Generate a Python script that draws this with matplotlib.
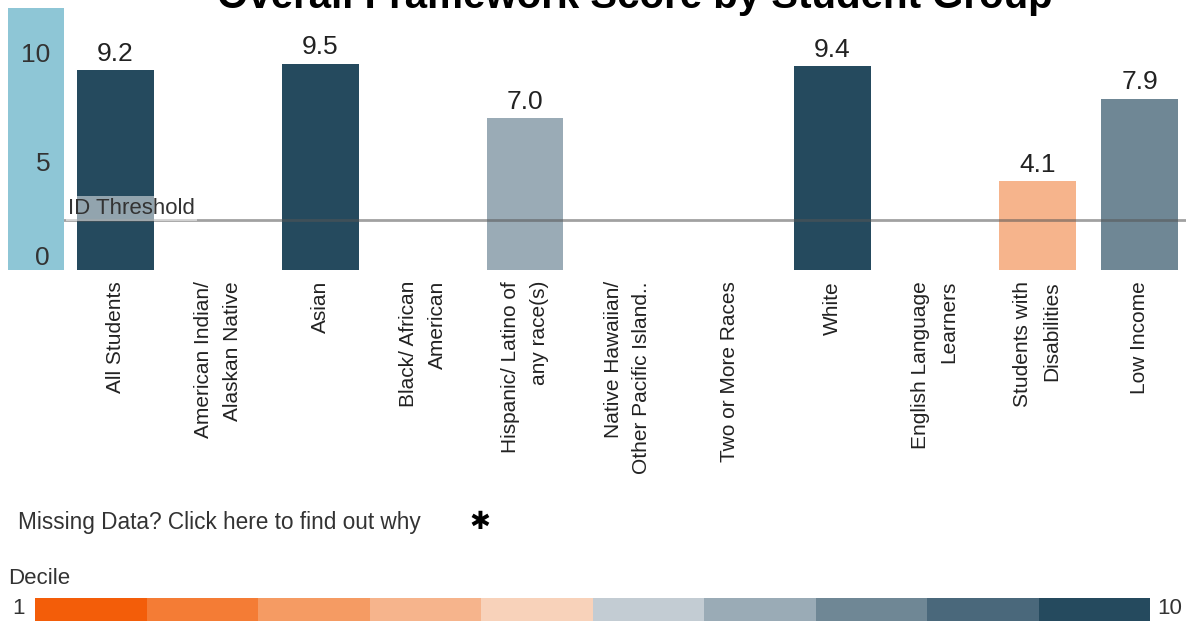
import numpy as np
import matplotlib
matplotlib.use("Agg")
import matplotlib.pyplot as plt

plt.rcParams['font.family'] = ['Liberation Sans', 'DejaVu Sans']

categories = ["All Students", "American Indian/\nAlaskan Native", "Asian",
              "Black/ African\nAmerican", "Hispanic/ Latino of\nany race(s)",
              "Native Hawaiian/\nOther Pacific Island..", "Two or More Races",
              "White", "English Language\nLearners", "Students with\nDisabilities",
              "Low Income"]
scores = [9.2, np.nan, 9.5, np.nan, 7.0, np.nan, np.nan, 9.4, np.nan, 4.1, 7.9]
deciles = [10, 0, 10, 0, 7, 0, 0, 10, 0, 4, 8]
threshold = 2.3
decile_colors = ["#f35d09", "#f47c35", "#f59b63", "#f6b48c", "#f8d2ba",
                 "#c3ccd3", "#9aabb6", "#6f8795", "#4a687b", "#254a5e"]

W, H = 1186, 621
fig = plt.figure(figsize=(W / 100, H / 100), dpi=100)

def fx(px):
    return px / W

def fy(py):
    return 1 - py / H

# light blue y axis band (separate axes underneath the chart)
band = fig.add_axes([fx(8), fy(270), fx(56), 262 / H], zorder=0)
band.set_facecolor("#8ec6d6")
band.set_xticks([])
band.set_yticks([])
for sp in band.spines.values():
    sp.set_visible(False)

ax = fig.add_axes([fx(64), fy(270), fx(1191 - 64), 262 / H], zorder=1)
x = np.arange(len(categories))
colors = [decile_colors[d - 1] if d > 0 else "white" for d in deciles]
ax.bar(x, scores, width=0.75, color=colors, zorder=2)
for xi, s in zip(x, scores):
    if not np.isnan(s):
        ax.text(xi, s + 0.2, f"{s:.1f}", ha="center", va="bottom",
                fontsize=19, color="#222222")

ax.axhline(threshold, color="#555555", alpha=0.55, lw=2, zorder=3)
ax.text(-0.46, threshold + 0.04, "ID Threshold", fontsize=16, color="#333333",
        va="bottom", ha="left", zorder=4,
        bbox=dict(boxstyle="square,pad=0.1", fc="white", ec="none", alpha=0.5))

ax.set_xlim(-0.5, len(categories) - 0.5)
ax.set_ylim(0, 12.07)
ax.set_xticks(x)
ax.set_xticklabels(categories, rotation=90, fontsize=15, color="#222222",
                   multialignment="right", linespacing=1.65)
ax.tick_params(axis="x", length=0, pad=8)
ax.set_yticks([0, 5, 10])
ax.set_yticklabels(["0", "5", "10"], fontsize=19, color="#333333")
ax.tick_params(axis="y", length=0, pad=10)
ax.get_yticklabels()[0].set_va("bottom")
for sp in ax.spines.values():
    sp.set_visible(False)
ax.patch.set_alpha(0)

fig.text(0.535, fy(8), "Overall Framework Score by Student Group", ha="center",
         va="baseline", fontsize=29, fontweight="bold", color="black")

fig.text(fx(18), fy(522), "Missing Data? Click here to find out why", fontsize=16.3,
         color="#333333", va="center", ha="left")
fig.text(fx(480), fy(522), "\u2731", fontsize=18, color="black", va="center",
         ha="center", family=["DejaVu Sans"])
fig.text(fx(8), fy(579), "Decile", fontsize=16, color="#333333", va="center", ha="left")
fig.text(fx(19), fy(609), "1", fontsize=16, color="#333333", va="center", ha="center")
fig.text(fx(1157), fy(609), "10", fontsize=16, color="#333333", va="center", ha="left")

cax = fig.add_axes([fx(35), 0, fx(1150 - 35), (H - 598) / H])
for i, c in enumerate(decile_colors):
    cax.barh(0, 1, left=i, height=1, color=c)
cax.set_xlim(0, 10)
cax.set_ylim(-0.5, 0.5)
cax.axis("off")

fig.savefig("out.png", dpi=100)
